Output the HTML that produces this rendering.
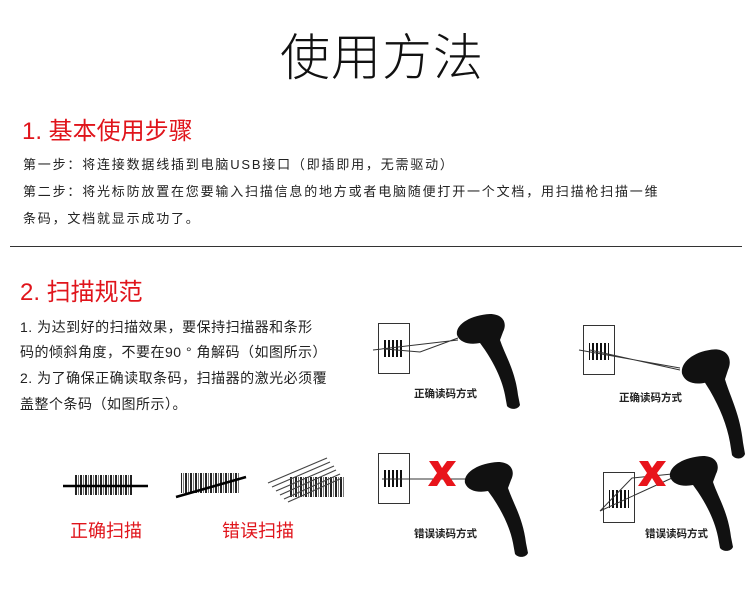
<!DOCTYPE html>
<html><head><meta charset="utf-8"><style>
body{margin:0;width:750px;height:592px;background:#fff;position:relative;overflow:hidden;font-family:"Liberation Sans","Noto Sans CJK SC",sans-serif;}
.a{position:absolute;white-space:nowrap;}
.t{font-size:13px;color:#222;letter-spacing:1.8px;}
.t2{font-size:14px;color:#222;letter-spacing:0.5px;}
.r{color:#e0141b;font-size:24px;}
</style></head><body>
<div class="a" style="left:280px;top:18px;font-size:50px;font-weight:300;color:#111;letter-spacing:1px;">使用方法</div>
<div class="a r" style="left:22px;top:111px;">1. 基本使用步骤</div>
<div class="a t" style="left:23px;top:154px;">第一步：将连接数据线插到电脑USB接口（即插即用，无需驱动）</div>
<div class="a t" style="left:23px;top:181px;">第二步：将光标防放置在您要输入扫描信息的地方或者电脑随便打开一个文档，用扫描枪扫描一维</div>
<div class="a t" style="left:23px;top:208px;">条码，文档就显示成功了。</div>
<div class="a" style="left:10px;top:246px;width:732px;height:1px;background:#333;"></div>
<div class="a r" style="left:20px;top:272px;">2. 扫描规范</div>
<div class="a t2" style="left:20px;top:317px;">1. 为达到好的扫描效果，要保持扫描器和条形</div>
<div class="a t2" style="left:20px;top:342px;">码的倾斜角度，不要在90 ° 角解码（如图所示）</div>
<div class="a t2" style="left:20px;top:368px;">2. 为了确保正确读取条码，扫描器的激光必须覆</div>
<div class="a t2" style="left:20px;top:394px;">盖整个条码（如图所示）。</div>
<div class="a" style="left:70px;top:517px;font-size:18px;color:#e0141b;">正确扫描</div>
<div class="a" style="left:222px;top:517px;font-size:18px;color:#e0141b;">错误扫描</div>
<div class="a" style="left:414px;top:386px;font-size:10.5px;font-weight:bold;color:#222;">正确读码方式</div>
<div class="a" style="left:619px;top:390px;font-size:10.5px;font-weight:bold;color:#222;">正确读码方式</div>
<div class="a" style="left:414px;top:526px;font-size:10.5px;font-weight:bold;color:#222;">错误读码方式</div>
<div class="a" style="left:645px;top:526px;font-size:10.5px;font-weight:bold;color:#222;">错误读码方式</div>
<svg class="a" style="left:0;top:0" width="750" height="592">
<defs>
<pattern id="bc" width="4" height="10" patternUnits="userSpaceOnUse"><rect width="2" height="10" fill="#111"/></pattern>
<pattern id="bc2" width="5" height="10" patternUnits="userSpaceOnUse"><rect width="2" height="10" fill="#222"/><rect x="3" width="1" height="10" fill="#777"/></pattern>
<path id="sc" d="M457,335 C455,325 470,315 490,314 C502,314 508,322 503,332 L500,340 C505,355 515,370 518,395 L520,405 C518,410 510,410 507,406 L505,395 C502,380 495,365 485,350 L480,343 C470,345 460,343 457,335 Z" fill="#111"/>
</defs>
<rect x="75" y="475" width="58" height="20" fill="url(#bc2)"/>
<line x1="63" y1="486" x2="148" y2="486" stroke="#000" stroke-width="2.5"/>
<rect x="181" y="473" width="58" height="20" fill="url(#bc2)"/>
<line x1="176" y1="497" x2="246" y2="477" stroke="#000" stroke-width="2.5"/>
<rect x="290" y="477" width="55" height="20" fill="url(#bc2)"/>
<g stroke="#444" stroke-width="1.2">
<line x1="268" y1="483" x2="327" y2="458"/><line x1="272" y1="487" x2="330" y2="462"/>
<line x1="276" y1="491" x2="334" y2="466"/><line x1="280" y1="495" x2="336" y2="470"/>
<line x1="284" y1="499" x2="340" y2="474"/><line x1="288" y1="502" x2="342" y2="478"/>
</g>
<rect x="378.5" y="323.5" width="31" height="50" fill="none" stroke="#333"/>
<rect x="384" y="340" width="20" height="17" fill="url(#bc)"/>
<path d="M373,350 L458,340 M385,349 L420,352 L458,338" stroke="#333" fill="none"/>
<use href="#sc"/>
<rect x="583.5" y="325.5" width="31" height="49" fill="none" stroke="#333"/>
<rect x="589" y="343" width="20" height="17" fill="url(#bc)"/>
<path d="M579,350 L680,368 M590,350 L680,370" stroke="#333" fill="none"/>
<use href="#sc" transform="translate(225,40) scale(1,1.15) translate(0,-45)"/>
<rect x="378.5" y="453.5" width="31" height="50" fill="none" stroke="#333"/>
<rect x="384" y="470" width="20" height="17" fill="url(#bc)"/>
<line x1="382" y1="479" x2="466" y2="479" stroke="#333"/>
<use href="#sc" transform="translate(8,148)"/>
<path d="M429,461 L438,461 L442,468 L447,461 L456,461 L447,473 L456,486 L447,486 L442,478 L437,486 L428,486 L437,473 Z" fill="#e8141b"/>
<rect x="603.5" y="472.5" width="31" height="50" fill="none" stroke="#333"/>
<rect x="609" y="490" width="20" height="18" fill="url(#bc)"/>
<path d="M600,511 L632,478 L672,474 M600,511 L672,478" stroke="#333" fill="none"/>
<use href="#sc" transform="translate(213,142)"/>
<path d="M639,461 L648,461 L652,468 L657,461 L666,461 L657,473 L666,486 L657,486 L652,478 L647,486 L638,486 L647,473 Z" fill="#e8141b"/>
</svg>
</body></html>
